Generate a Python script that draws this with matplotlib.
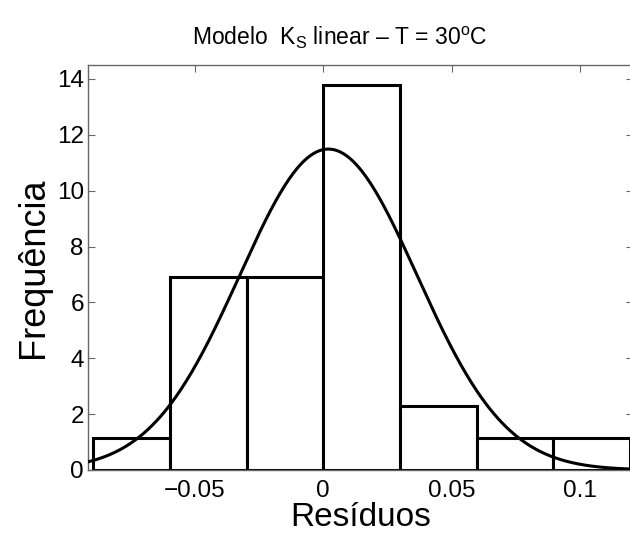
#!/usr/bin/env python3
"""Histogram of residuals with fitted normal curve (Modelo K_S linear, T = 30 C)."""

import numpy as np
import matplotlib
matplotlib.use('Agg')
import matplotlib.pyplot as plt

plt.rcParams['font.family'] = ['Liberation Sans', 'DejaVu Sans']
plt.rcParams['mathtext.fontset'] = 'custom'
plt.rcParams['mathtext.rm'] = 'Liberation Sans'
plt.rcParams['mathtext.it'] = 'Liberation Sans'

# histogram bins
bin_edges = [-0.0895, -0.0597, -0.0298, 0.0, 0.0298, 0.0597, 0.0895, 0.1193]
freqs     = [1.15, 6.9, 6.9, 13.8, 2.3, 1.15, 1.15]

# fitted normal curve parameters
fit_mu    = 0.002
fit_sigma = 0.0345
fit_peak  = 11.49

xticks = [-0.05, 0, 0.05, 0.1]
xtick_labels = ['\u22120.05', '0', '0.05', '0.1']
yticks = [0, 2, 4, 6, 8, 10, 12, 14]

W, H = 630, 533
fig = plt.figure(figsize=(W / 100, H / 100), dpi=100)
ax = fig.add_axes([88 / W, (H - 470) / H, (633 - 88) / W, (470 - 65) / H])

lefts = bin_edges[:-1]
widths = [b - a for a, b in zip(bin_edges[:-1], bin_edges[1:])]
ax.bar(lefts, freqs, width=widths, align='edge', facecolor='white',
       edgecolor='black', linewidth=2.2, zorder=2)

xlim = (-0.0915, 0.1205)
xs = np.linspace(xlim[0], xlim[1], 400)
ys = fit_peak * np.exp(-0.5 * ((xs - fit_mu) / fit_sigma) ** 2)
ax.plot(xs, ys, color='black', linewidth=2.2, zorder=3)

ax.set_xlim(*xlim)
ax.set_ylim(0, 14.5)
ax.set_xticks(xticks)
ax.set_xticklabels(xtick_labels)
ax.set_yticks(yticks)

for s in ax.spines.values():
    s.set_color('#666666')
    s.set_linewidth(1.0)
ax.tick_params(direction='in', length=5, width=0.8, color='#666666',
               labelsize=17.5, top=True, right=True)
ax.tick_params(axis='x', pad=7)
ax.tick_params(axis='y', pad=3)

ax.set_xlabel('Resíduos', fontsize=24, labelpad=0)
ax.set_ylabel('Frequência', fontsize=26, labelpad=4)
ax.set_title('Modelo  K$_{\\mathrm{S}}$ linear \u2013 T = 30$^{\\mathrm{o}}$C',
             fontsize=16.5, x=0.462, pad=14)

fig.savefig('out.png', dpi=100)
print("Written: out.png")
